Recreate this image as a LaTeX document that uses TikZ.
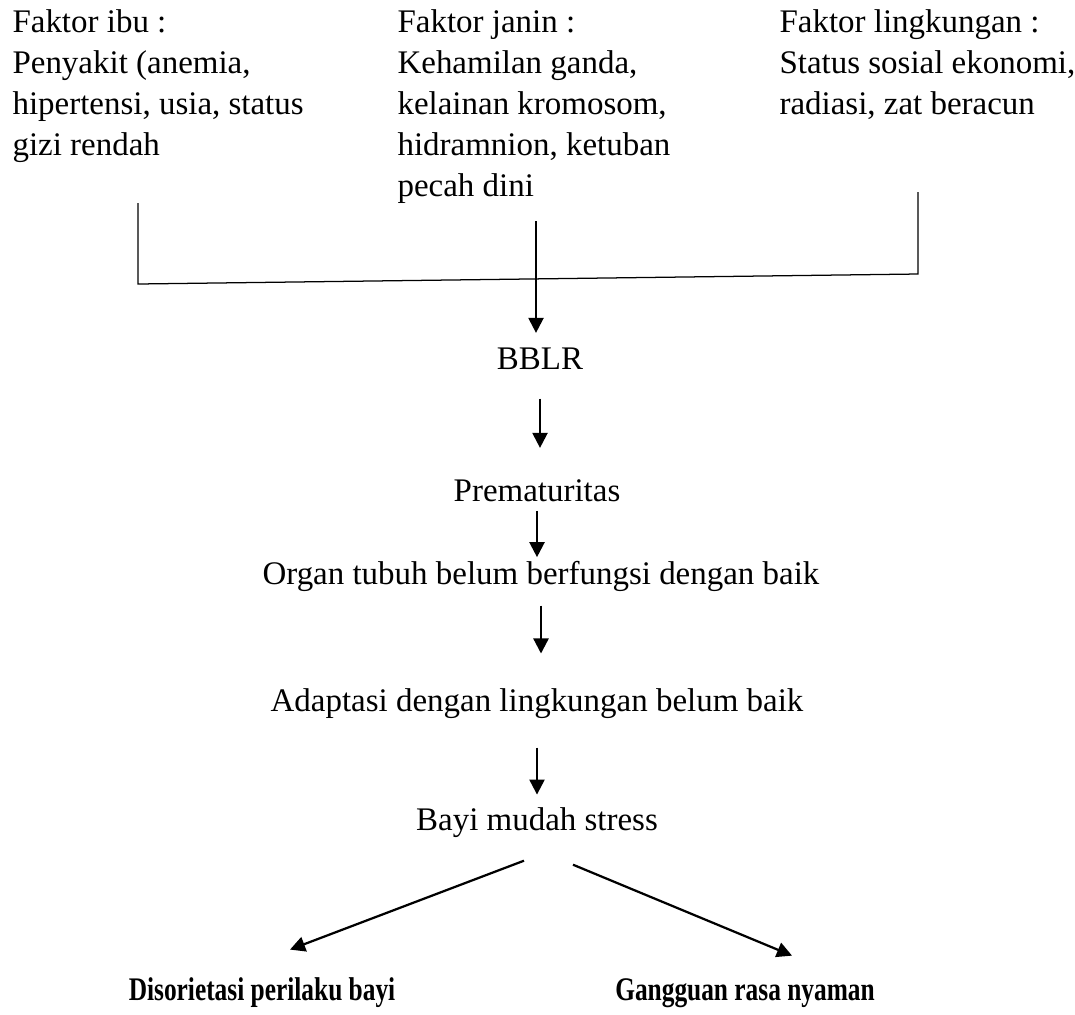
\documentclass[tikz,border=0pt]{standalone}
\usepackage{graphicx}
\usepackage{fontspec}
\setmainfont{Liberation Serif}
\usetikzlibrary{arrows.meta}

\newcommand{\tebal}[1]{\scalebox{0.77}[1]{\bfseries #1}}

\tikzset{
  teks/.style={inner sep=0pt, font=\fontsize{11.8}{14.7}\selectfont},
  blok/.style={teks, align=left, anchor=north west},
  hasil/.style={teks, anchor=base},
  garis/.style={line width=0.45pt},
  panah/.style={line width=0.8pt, -{Triangle[width=5.4pt,length=5.4pt]}}
}

\begin{document}
\begin{tikzpicture}[x=0.358pt, y=-0.358pt]
\useasboundingbox (0,0) rectangle (1075,1014);

% faktor penyebab
\node[blok] (ibu) at (12,9) {Faktor ibu :\\Penyakit (anemia,\\hipertensi, usia, status\\gizi rendah};
\node[blok] (janin) at (397,9) {Faktor janin :\\Kehamilan ganda,\\kelainan kromosom,\\hidramnion, ketuban\\pecah dini};
\node[blok] (ling) at (779,9) {Faktor lingkungan :\\Status sosial ekonomi,\\radiasi, zat beracun};

% alur
\node[hasil] (bblr) at (540,369) {BBLR};
\node[hasil] (prem) at (537,501) {Prematuritas};
\node[hasil] (organ) at (541,584) {Organ tubuh belum berfungsi dengan baik};
\node[hasil] (adapt) at (537,711) {Adaptasi dengan lingkungan belum baik};
\node[hasil] (bayi) at (537,830) {Bayi mudah stress};
\node[hasil] (dis) at (262,1000) {\tebal{Disorietasi perilaku bayi}};
\node[hasil] (gang) at (745,1000) {\tebal{Gangguan rasa nyaman}};

% garis penghubung
\coordinate (ibuL) at (138,203);
\coordinate (ibuB) at (138,284);
\coordinate (janinL) at (536,221);
\coordinate (temu) at (536,279);
\coordinate (lingL) at (918,192);
\coordinate (lingB) at (918,274);
\draw[garis] (ibuL) -- (ibuB) -- (lingB) -- (lingL);
\draw[garis] (janinL) -- (temu);

\draw[panah, shorten >=5pt] (temu) -- (temu |- bblr.north);
\draw[panah, shorten <=10.4pt, shorten >=11pt] (bblr.south) -- (bblr.south |- prem.north);
\draw[panah, shorten <=3.2pt, shorten >=1.1pt] (prem.south) -- (prem.south |- organ.north);
\draw[panah, shorten <=5pt, shorten >=12.2pt] (organ.south) -- (organ.south |- adapt.north);
\draw[panah, shorten <=10.4pt, shorten >=4.3pt] (adapt.south) -- (adapt.south |- bayi.north);
\draw[panah] ([shift={(-13,23)}]bayi.south) -- ([shift={(28,-27)}]dis.north);
\draw[panah] ([shift={(36,27)}]bayi.south) -- ([shift={(47,-22)}]gang.north);
\end{tikzpicture}
\end{document}
